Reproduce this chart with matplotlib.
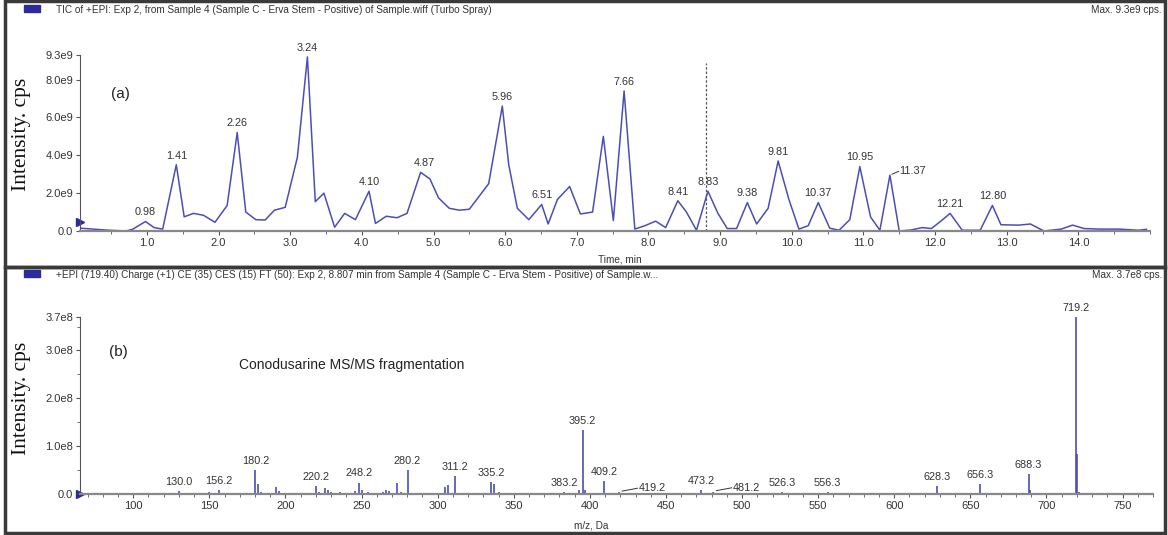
import matplotlib.pyplot as plt
import matplotlib.patches as mpatches
from matplotlib.ticker import MultipleLocator
import numpy as np

# TIC chromatogram (time in min, intensity in 1e9 cps)
tic_time = [0.07, 0.25, 0.47, 0.71, 0.80, 0.98, 1.10, 1.22, 1.41, 1.52, 1.65, 1.79, 1.95,
            2.12, 2.26, 2.38, 2.52, 2.65, 2.78, 2.93, 3.10, 3.24, 3.35, 3.47, 3.62, 3.76,
            3.91, 4.10, 4.19, 4.34, 4.49, 4.63, 4.82, 4.95, 5.07, 5.22, 5.36, 5.50, 5.62,
            5.77, 5.96, 6.05, 6.17, 6.33, 6.51, 6.60, 6.73, 6.90, 7.05, 7.22, 7.37, 7.51,
            7.66, 7.81, 7.95, 8.10, 8.24, 8.41, 8.53, 8.67, 8.83, 8.97, 9.10, 9.23, 9.38,
            9.51, 9.67, 9.81, 9.96, 10.10, 10.23, 10.37, 10.53, 10.66, 10.81, 10.95, 11.10,
            11.23, 11.37, 11.50, 11.66, 11.82, 11.95, 12.09, 12.21, 12.38, 12.63, 12.80,
            12.92, 13.17, 13.33, 13.52, 13.76, 13.92, 14.08, 14.30, 14.57, 14.84, 14.95]
tic_int = [0.15, 0.10, 0.04, 0.00, 0.09, 0.50, 0.18, 0.10, 3.50, 0.75, 0.93, 0.83, 0.46,
           1.35, 5.20, 1.00, 0.60, 0.58, 1.10, 1.25, 3.90, 9.20, 1.55, 2.00, 0.20, 0.93,
           0.60, 2.10, 0.40, 0.78, 0.70, 0.93, 3.10, 2.75, 1.75, 1.20, 1.10, 1.15, 1.75,
           2.50, 6.60, 3.50, 1.20, 0.60, 1.40, 0.37, 1.67, 2.35, 0.90, 1.00, 5.00, 0.55,
           7.40, 0.10, 0.28, 0.52, 0.18, 1.60, 1.00, 0.04, 2.10, 0.93, 0.13, 0.13, 1.50,
           0.37, 1.20, 3.70, 1.67, 0.10, 0.28, 1.50, 0.15, 0.04, 0.60, 3.40, 0.74,
           0.04, 2.95, 0.00, 0.05, 0.18, 0.13, 0.55, 0.93, 0.04, 0.04, 1.35,
           0.33, 0.31, 0.37, 0.00, 0.10, 0.31, 0.13, 0.10, 0.10, 0.04, 0.09]
tic_labels = [0.98, 1.41, 2.26, 3.24, 4.10, 4.87, 5.96, 6.51, 7.66, 8.41, 8.83,
              9.38, 9.81, 10.37, 10.95, 11.37, 12.21, 12.80]
tic_label_y = [0.50, 3.50, 5.20, 9.20, 2.10, 3.10, 6.60, 1.40, 7.40, 1.60, 2.10,
               1.50, 3.70, 1.50, 3.40, 2.95, 0.93, 1.35]
scan_time = 8.807

# MS/MS spectrum (m/z, intensity in 1e8 cps)
ms_mz = [122, 128, 130.0, 144, 150, 154, 156.2, 158, 168, 172, 180.2, 182, 184, 194, 196,
         198, 205, 208, 212, 220.2, 222, 226, 228, 230, 236, 238, 246, 248.2, 250, 254,
         256, 264, 266, 268, 273, 276, 280.2, 290, 296, 305, 307, 311.2, 320, 323, 335.2,
         337, 340, 349, 360, 368, 372, 381, 383.2, 393, 395.2, 397, 404, 409.2, 412,
         419.2, 421, 430, 440, 462, 466, 473.2, 478, 481.2, 492, 498, 510, 520, 526.3,
         528, 540, 556.3, 559, 562, 588, 596, 628.3, 630, 638, 656.3, 660, 688.3, 689.3,
         702, 719.2, 720.2, 721.2]
ms_int = [0.02, 0.015, 0.06, 0.03, 0.04, 0.03, 0.08, 0.03, 0.02, 0.02, 0.50, 0.20, 0.05,
          0.15, 0.06, 0.03, 0.02, 0.03, 0.02, 0.16, 0.05, 0.12, 0.09, 0.05, 0.04, 0.03,
          0.06, 0.24, 0.08, 0.04, 0.03, 0.05, 0.09, 0.07, 0.24, 0.04, 0.50, 0.02, 0.02,
          0.14, 0.18, 0.38, 0.02, 0.03, 0.25, 0.20, 0.04, 0.03, 0.02, 0.02, 0.02, 0.03,
          0.04, 0.09, 1.34, 0.08, 0.02, 0.27, 0.03, 0.04, 0.03, 0.02, 0.02, 0.02, 0.02,
          0.09, 0.02, 0.05, 0.02, 0.03, 0.03, 0.02, 0.04, 0.03, 0.02, 0.04, 0.02, 0.02,
          0.03, 0.02, 0.16, 0.03, 0.02, 0.20, 0.03, 0.41, 0.08, 0.02, 3.70, 0.83, 0.05]
ms_labels = [130.0, 156.2, 180.2, 220.2, 248.2, 280.2, 311.2, 335.2, 383.2, 395.2, 409.2,
             419.2, 473.2, 481.2, 526.3, 556.3, 628.3, 656.3, 688.3, 719.2]
ms_label_y = [0.06, 0.08, 0.50, 0.16, 0.24, 0.50, 0.38, 0.25, 0.04, 1.34, 0.27,
              0.04, 0.09, 0.05, 0.04, 0.04, 0.16, 0.20, 0.41, 3.70]

line_col = '#4d4db8'
txt_col = '#333333'
plt.rcParams['font.family'] = ['Liberation Sans', 'DejaVu Sans']

fig = plt.figure(figsize=(11.68, 5.35), dpi=100)

# panel frames
for y0, h in [(0.5 / 535, 266 / 535), (267 / 535, 266 / 535)]:
    fig.patches.append(mpatches.Rectangle((5 / 1168, 1 - y0 - h), 1160 / 1168, h,
                                          transform=fig.transFigure, fill=False,
                                          edgecolor='#3a3a3a', lw=2.5))

# header strips
for ytop, title, mx in [(10, 'TIC of +EPI: Exp 2, from Sample 4 (Sample C - Erva Stem - Positive) of Sample.wiff (Turbo Spray)', 'Max. 9.3e9 cps.'),
                        (275, '+EPI (719.40) Charge (+1) CE (35) CES (15) FT (50): Exp 2, 8.807 min from Sample 4 (Sample C - Erva Stem - Positive) of Sample.w...', 'Max. 3.7e8 cps.')]:
    fig.patches.append(mpatches.Rectangle((24 / 1168, 1 - (ytop + 2) / 535), 16 / 1168, 7 / 535,
                                          transform=fig.transFigure, color='#2b2b9a'))
    fig.text(56 / 1168, 1 - ytop / 535, title, fontsize=7.2, color=txt_col, va='center')
    fig.text(1162 / 1168, 1 - ytop / 535, mx, fontsize=7.2, color=txt_col, va='center', ha='right')

# ---- (a) chromatogram
ax1 = fig.add_axes([80 / 1168, 1 - 231 / 535, 1070 / 1168, 176 / 535])
ax1.plot(tic_time, np.array(tic_int) * 1e9, color=line_col, lw=1.1)
ax1.plot([scan_time, scan_time], [0, 8.9e9], color='#555555', lw=0.9, ls=(0, (2, 1.5)))
for t, yv in zip(tic_labels, tic_label_y):
    if t == 11.37:
        ax1.plot([t + 0.03, t + 0.12], [yv * 1e9 + 0.05e9, yv * 1e9 + 0.2e9], color=txt_col, lw=0.7)
        ax1.text(t + 0.13, yv * 1e9 + 0.2e9, '%.2f' % t, fontsize=7.8, color=txt_col,
                 ha='left', va='center')
    else:
        ax1.annotate('%.2f' % t, (t, yv * 1e9), xytext=(0, 3), textcoords='offset points',
                     ha='center', va='bottom', fontsize=7.8, color=txt_col)
ax1.set_xlim(0.066, 15.0)
ax1.set_ylim(0, 9.3e9)
ax1.set_xticks(np.arange(1, 15, 1.0))
ax1.set_xticklabels(['%.1f' % v for v in np.arange(1, 15, 1.0)])
ax1.xaxis.set_minor_locator(MultipleLocator(0.5))
ax1.set_yticks([0, 2e9, 4e9, 6e9, 8e9, 9.3e9])
ax1.set_yticklabels(['0.0', '2.0e9', '4.0e9', '6.0e9', '8.0e9', '9.3e9'])
ax1.text(620 / 1168, 1 - 259 / 535, 'Time, min', transform=fig.transFigure, fontsize=7.2,
         color=txt_col, ha='center', va='center')
ax1.text(0.029, 0.78, '(a)', transform=ax1.transAxes, fontsize=11, color='#222222',
         va='center')
ax1.plot([0.066], [0.45e9], marker='>', color='#2b2b9a', ms=6, clip_on=False)

# ---- (b) MS/MS spectrum
ax2 = fig.add_axes([80 / 1168, 1 - 494 / 535, 1073 / 1168, 177 / 535])
ax2.vlines(ms_mz, 0, np.array(ms_int) * 1e8, color=line_col, lw=1.2)
for m, yv in zip(ms_labels, ms_label_y):
    if m in (419.2, 481.2):
        ax2.plot([m + 2, m + 12], [yv * 1e8 + 0.02e8, yv * 1e8 + 0.08e8], color=txt_col, lw=0.7)
        ax2.text(m + 13, yv * 1e8 + 0.08e8, '%.1f' % m, fontsize=7.8, color=txt_col,
                 ha='left', va='center')
    else:
        ax2.annotate('%.1f' % m, (m, yv * 1e8), xytext=(0, 3), textcoords='offset points',
                     ha='center', va='bottom', fontsize=7.8, color=txt_col, annotation_clip=False)
ax2.set_xlim(65, 770)
ax2.set_ylim(0, 3.7e8)
ax2.set_xticks(np.arange(100, 751, 50))
ax2.xaxis.set_minor_locator(MultipleLocator(10))
ax2.yaxis.set_minor_locator(MultipleLocator(0.5e8))
ax2.set_yticks([0, 1e8, 2e8, 3e8, 3.7e8])
ax2.set_yticklabels(['0.0', '1.0e8', '2.0e8', '3.0e8', '3.7e8'])
ax2.text(591 / 1168, 1 - 526 / 535, 'm/z, Da', transform=fig.transFigure, fontsize=7.2,
         color=txt_col, ha='center', va='center')
ax2.text(0.027, 0.80, '(b)', transform=ax2.transAxes, fontsize=11, color='#222222',
         va='center')
ax2.text(0.148, 0.73, 'Conodusarine MS/MS fragmentation', transform=ax2.transAxes,
         fontsize=10, color='#222222', va='center')
ax2.plot([65], [0], marker='>', color='#2b2b9a', ms=6, clip_on=False)

for ax, yc in ((ax1, 0.55), (ax2, 0.54)):
    for s in ('top', 'right'):
        ax.spines[s].set_visible(False)
    ax.spines['left'].set_color('#555555')
    ax.spines['bottom'].set_color('#888888')
    ax.spines['bottom'].set_linewidth(1.6)
    ax.tick_params(axis='both', which='major', labelsize=8, labelcolor=txt_col,
                   color='#555555', length=3, pad=2)
    ax.tick_params(axis='both', which='minor', color='#555555', length=2)
    ax.set_ylabel('Intensity. cps', family=['Liberation Serif', 'DejaVu Serif'],
                  fontsize=15.5, color='#111111')
    ax.yaxis.set_label_coords(-49 / 1070, yc)

fig.savefig('out.png', dpi=100)
